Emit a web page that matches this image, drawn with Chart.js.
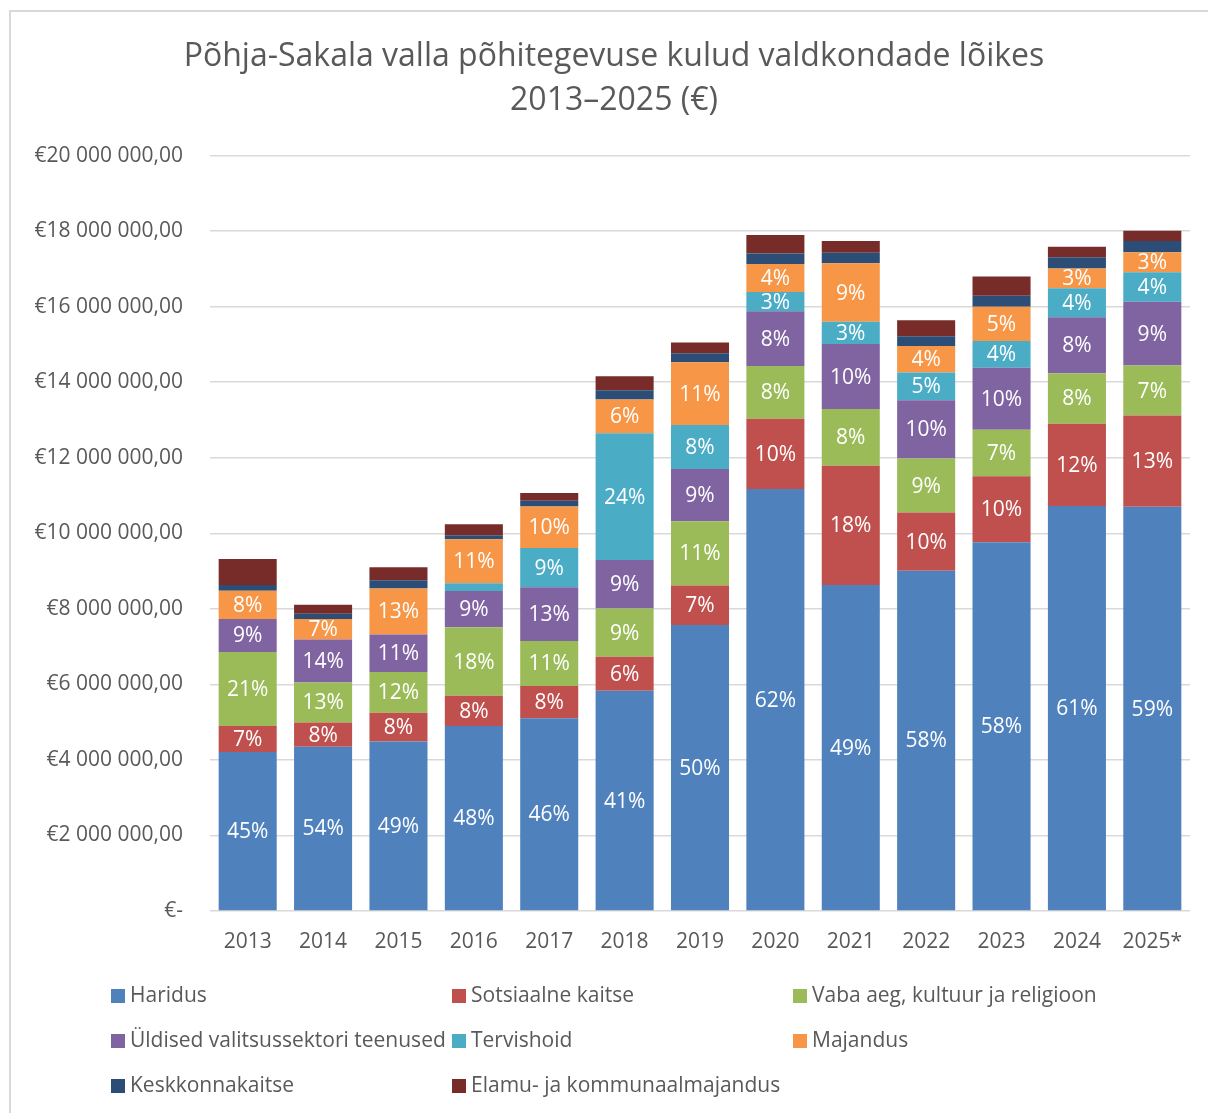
<!DOCTYPE html>
<html>
<head>
<meta charset="utf-8">
<script src="https://cdn.jsdelivr.net/npm/chart.js@4/dist/chart.umd.min.js"></script>
<style>
  html, body { margin: 0; padding: 0; background: #fff; overflow: hidden; }
  #box { position: absolute; left: 9px; top: 10px; width: 1210px; height: 1120px;
         border: 2px solid #d9d9d9; box-sizing: border-box; }
  #box canvas { position: absolute; left: 0; top: 0; }
  #legend { position: absolute; left: 0; top: 0; font-family: "Open Sans", sans-serif;
            font-size: 21px; color: #595959; }
  .item { position: absolute; white-space: nowrap; line-height: 24px; height: 24px; }
  .item span { display: inline-block; width: 14px; height: 14px; margin-right: 5px;
               vertical-align: -1px; }
</style>
</head>
<body>
<div id="box">
  <canvas id="myChart" width="1206" height="1116"></canvas>
  <div id="legend"></div>
</div>
<script>
'use strict';

var years = ['2013', '2014', '2015', '2016', '2017', '2018', '2019', '2020', '2021', '2022', '2023', '2024', '2025*'];

var haridus     = [4210000, 4350000, 4490000, 4900000, 5100000, 5830000, 7570000, 11170000, 8630000, 9010000, 9760000, 10720000, 10700000];
var sotsiaalne  = [690000, 640000, 760000, 800000, 860000, 900000, 1050000, 1860000, 3160000, 1540000, 1750000, 2180000, 2420000];
var vabaAeg     = [1960000, 1060000, 1080000, 1810000, 1190000, 1280000, 1700000, 1400000, 1500000, 1430000, 1230000, 1340000, 1320000];
var yldised     = [870000, 1140000, 990000, 960000, 1420000, 1280000, 1380000, 1450000, 1720000, 1540000, 1640000, 1480000, 1690000];
var tervishoid  = [0, 0, 0, 210000, 1040000, 3360000, 1170000, 510000, 590000, 740000, 710000, 770000, 780000];
var majandus    = [750000, 540000, 1220000, 1160000, 1100000, 890000, 1660000, 740000, 1550000, 700000, 910000, 520000, 530000];
var keskkond    = [150000, 140000, 220000, 110000, 150000, 250000, 240000, 280000, 280000, 260000, 290000, 300000, 300000];
var elamu       = [690000, 240000, 340000, 290000, 210000, 370000, 280000, 490000, 310000, 420000, 510000, 280000, 270000];

var seriesNames = ['Haridus', 'Sotsiaalne kaitse', 'Vaba aeg, kultuur ja religioon',
                   'Üldised valitsussektori teenused', 'Tervishoid', 'Majandus',
                   'Keskkonnakaitse', 'Elamu- ja kommunaalmajandus'];
var seriesData = [haridus, sotsiaalne, vabaAeg, yldised, tervishoid, majandus, keskkond, elamu];
var colors = ['#4f81bd', '#c0504d', '#9bbb59', '#8064a2', '#4bacc6', '#f79646', '#2c4d75', '#772c2a'];

var yTicks = [0, 2000000, 4000000, 6000000, 8000000, 10000000, 12000000, 14000000, 16000000, 18000000, 20000000];

var totals = years.map(function (y, i) {
    var s = 0;
    seriesData.forEach(function (arr) { s += arr[i]; });
    return s;
});

function euro(v) {
    if (v === 0) return '€-';
    return '€' + String(Math.round(v)).replace(/\B(?=(\d{3})+(?!\d))/g, ' ') + ',00';
}

// percentage labels inside the first six series
var pctLabels = {
    id: 'pctLabels',
    afterDatasetsDraw: function (chart) {
        var ctx = chart.ctx;
        ctx.save();
        ctx.font = '21px "Open Sans"';
        ctx.fillStyle = '#ffffff';
        ctx.textAlign = 'center';
        ctx.textBaseline = 'middle';
        for (var d = 0; d < 6; d++) {
            var meta = chart.getDatasetMeta(d);
            meta.data.forEach(function (bar, i) {
                var pct = seriesData[d][i] / totals[i] * 100;
                if (pct < 2.5) return;
                ctx.fillText(Math.round(pct) + '%', bar.x, (bar.y + bar.base) / 2 + 1);
            });
        }
        ctx.restore();
    }
};

function buildLegend() {
    var cols = [100, 441, 782];
    var rows = [970, 1015, 1060];
    var html = '';
    seriesNames.forEach(function (name, i) {
        html += '<div class="item" style="left:' + cols[i % 3] + 'px;top:' + rows[Math.floor(i / 3)] + 'px">' +
                '<span style="background:' + colors[i] + '"></span>' + name + '</div>';
    });
    document.getElementById('legend').innerHTML = html;
}

function draw() {
    var datasets = seriesNames.map(function (name, i) {
        return {
            label: name,
            data: seriesData[i],
            backgroundColor: colors[i],
            borderWidth: 0,
            barPercentage: 0.77,
            categoryPercentage: 1
        };
    });

    var config = {
        type: 'bar',
        data: { labels: years, datasets: datasets },
        plugins: [pctLabels],
        options: {
            responsive: false,
            animation: false,
            layout: { padding: { left: 0, right: 0, top: 0, bottom: 165 } },
            plugins: {
                legend: { display: false },
                tooltip: { enabled: false },
                title: {
                    display: true,
                    text: ['Põhja-Sakala valla põhitegevuse kulud valdkondade lõikes', '2013–2025 (€)'],
                    color: '#595959',
                    font: { family: 'Open Sans', size: 32, weight: 'normal', lineHeight: 1.4 },
                    padding: { top: 22, bottom: 32 }
                }
            },
            scales: {
                x: {
                    stacked: true,
                    grid: { display: false },
                    border: { display: false },
                    ticks: { color: '#595959', font: { family: 'Open Sans', size: 21 }, padding: 10 },
                    afterFit: function (scale) { scale.height = 52; }
                },
                y: {
                    stacked: true,
                    min: 0,
                    max: 20000000,
                    afterBuildTicks: function (scale) {
                        scale.ticks = yTicks.map(function (v) { return { value: v }; });
                    },
                    grid: { color: '#d9d9d9', lineWidth: 1.5, drawTicks: false },
                    border: { display: false },
                    ticks: {
                        color: '#595959',
                        font: { family: 'Open Sans', size: 21 },
                        padding: 27,
                        callback: function (v) { return euro(v); }
                    },
                    afterFit: function (scale) { scale.width = 199; }
                },
                // empty right-hand axis, keeps the right margin so the title stays centred
                yRight: {
                    position: 'right',
                    grid: { display: false },
                    border: { display: false },
                    ticks: { display: false },
                    afterFit: function (scale) { scale.width = 27; }
                }
            }
        }
    };

    var ctx = document.getElementById('myChart').getContext('2d');
    window.myBar = new Chart(ctx, config);
    buildLegend();
}

if (document.fonts && document.fonts.load) {
    Promise.all([document.fonts.load('21px "Open Sans"'), document.fonts.load('32px "Open Sans"')]).then(draw, draw);
} else {
    draw();
}
</script>
</body>
</html>
